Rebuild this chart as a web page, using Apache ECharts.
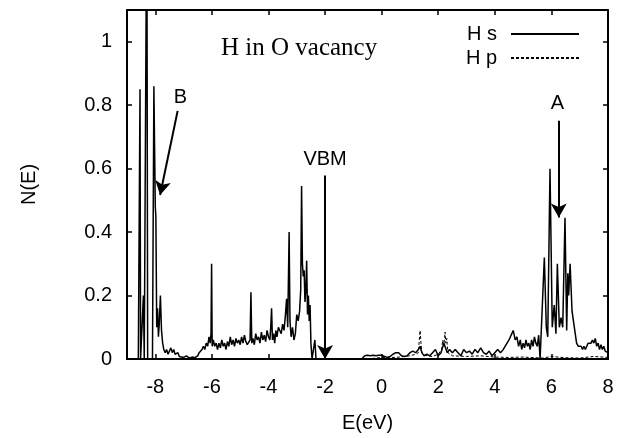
<!DOCTYPE html>
<html>
<head>
<meta charset="utf-8">
<script src="https://cdn.jsdelivr.net/npm/echarts@6/dist/echarts.min.js"></script>
<style>
html,body{margin:0;padding:0;background:#fff;}
#c{width:619px;height:438px;}
</style>
</head>
<body>
<div id="c"></div>
<script>
// H s projected DOS (energy in eV, N(E))
var hsE = [-9.00,-8.60,-8.56,-8.54,-8.52,-8.45,-8.42,-8.39,-8.33,-8.30,-8.27,-8.10,-8.05,-8.00,-7.98,-7.95,-7.92,-7.89,-7.86,-7.82,-7.78,-7.74,-7.70,-7.65,-7.60,-7.55,-7.50,-7.45,-7.40,-7.35,-7.30,-7.25,-7.20,-7.15,-7.10,-7.00,-6.90,-6.80,-6.70,-6.60,-6.50,-6.45,-6.40,-6.35,-6.30,-6.25,-6.20,-6.15,-6.10,-6.06,-6.03,-6.01,-5.99,-5.95,-5.90,-5.85,-5.80,-5.75,-5.70,-5.65,-5.60,-5.55,-5.50,-5.45,-5.40,-5.35,-5.30,-5.25,-5.20,-5.15,-5.10,-5.05,-5.00,-4.95,-4.90,-4.85,-4.80,-4.75,-4.70,-4.65,-4.62,-4.59,-4.55,-4.50,-4.45,-4.40,-4.35,-4.30,-4.25,-4.20,-4.15,-4.10,-4.05,-4.00,-3.95,-3.92,-3.89,-3.86,-3.82,-3.78,-3.74,-3.70,-3.65,-3.60,-3.55,-3.50,-3.45,-3.40,-3.36,-3.32,-3.27,-3.24,-3.20,-3.15,-3.10,-3.05,-3.00,-2.95,-2.90,-2.86,-2.83,-2.80,-2.77,-2.74,-2.71,-2.68,-2.65,-2.62,-2.59,-2.56,-2.53,-2.50,-2.46,-2.40,-2.36,-2.32,-0.70,-0.60,-0.50,-0.40,-0.30,-0.20,-0.10,0.00,0.10,0.20,0.30,0.40,0.50,0.60,0.70,0.80,0.90,1.00,1.10,1.20,1.30,1.36,1.42,1.50,1.60,1.70,1.80,1.90,2.00,2.10,2.20,2.26,2.32,2.40,2.50,2.60,2.70,2.80,2.90,3.00,3.10,3.20,3.30,3.40,3.50,3.60,3.70,3.80,3.90,4.00,4.10,4.20,4.30,4.40,4.50,4.60,4.65,4.72,4.78,4.84,4.90,4.95,5.00,5.05,5.10,5.15,5.20,5.25,5.30,5.35,5.40,5.45,5.50,5.55,5.60,5.66,5.75,5.82,5.87,5.95,6.03,6.10,6.16,6.21,6.28,6.34,6.40,6.48,6.54,6.58,6.61,6.66,6.73,6.80,6.89,6.95,7.00,7.05,7.10,7.15,7.20,7.25,7.30,7.35,7.40,7.45,7.50,7.55,7.60,7.65,7.70,7.75,7.80,7.85,7.90,7.95,8.00];
var hsN = [0,0,0,0.85,0,0,0.20,0,0,1.5,0,0,0.86,0.48,0.45,0.10,0.16,0.07,0.11,0.20,0.09,0.05,0.03,0.02,0.03,0.015,0.02,0.035,0.02,0.03,0.015,0.01,0.02,0.008,0.012,0.005,0.01,0.003,0.006,0.004,0.01,0.02,0.015,0.03,0.04,0.03,0.05,0.04,0.07,0.05,0.08,0.30,0.04,0.06,0.04,0.05,0.03,0.05,0.035,0.06,0.04,0.05,0.03,0.055,0.04,0.07,0.045,0.06,0.04,0.065,0.05,0.06,0.045,0.07,0.05,0.075,0.055,0.045,0.05,0.06,0.21,0.05,0.065,0.045,0.08,0.06,0.07,0.05,0.085,0.06,0.075,0.055,0.09,0.07,0.06,0.10,0.16,0.06,0.08,0.05,0.09,0.07,0.10,0.09,0.08,0.11,0.09,0.14,0.19,0.10,0.40,0.12,0.07,0.10,0.06,0.08,0.14,0.12,0.15,0.22,0.545,0.30,0.26,0.28,0.18,0.22,0.31,0.14,0.20,0.12,0.17,0.05,0,0,0.06,0,0,0.01,0.012,0.01,0.012,0.01,0.012,0.012,0.008,0.005,0.008,0.015,0.02,0.02,0.01,0.008,0.01,0.02,0.025,0.02,0.03,0.04,0.02,0.01,0.015,0.01,0.02,0.03,0.01,0.02,0.05,0.035,0.02,0.03,0.02,0.03,0.02,0.01,0.03,0.02,0.025,0.015,0.03,0.02,0.035,0.02,0.015,0.025,0.01,0.02,0.03,0.02,0.03,0.045,0.06,0.08,0.09,0.06,0.07,0.04,0.06,0.03,0.05,0.035,0.06,0.04,0.05,0.03,0.06,0.04,0.07,0.05,0.04,0.075,0,0,0.32,0.10,0.07,0.60,0.10,0.17,0.08,0.30,0.10,0.13,0.10,0.445,0.09,0.27,0.20,0.30,0.15,0.15,0.05,0.04,0.035,0.04,0.03,0.04,0.03,0.04,0.05,0.045,0.05,0.06,0.05,0.065,0.04,0.05,0.03,0.045,0.03,0.04,0.025,0.03,0.02];
// H p projected DOS
var hpE = [-9.00,-0.50,-0.20,0.00,0.50,1.00,1.20,1.30,1.33,1.36,1.39,1.42,1.60,1.80,2.00,2.12,2.16,2.20,2.24,2.27,2.30,2.34,2.50,3.00,3.50,4.00,4.50,5.00,5.50,5.70,6.00,6.50,7.00,7.50,8.00];
var hpN = [0,0,0.003,0.005,0.005,0.01,0.015,0.02,0.06,0.09,0.05,0.02,0.01,0.008,0.015,0.03,0.06,0.04,0.085,0.05,0.065,0.02,0.01,0.008,0.01,0.006,0.005,0.006,0.004,0.003,0.008,0.004,0.003,0.008,0.005];
// axis ticks
var xTicks = [-8,-6,-4,-2,0,2,4,6,8];
var yTicks = [0,0.2,0.4,0.6,0.8,1];
// annotations: [label, labelX, labelY, arrowStartX, arrowStartY, arrowEndX, arrowEndY]
var notes = [
  ['VBM', -2.0, 0.63, -2.0, 0.578, -2.0, 0.0],
  ['B', -7.11, 0.825, -7.21, 0.782, -7.83, 0.517],
  ['A', 6.215, 0.805, 6.26, 0.751, 6.26, 0.446]
];

function zip(a, b){ return a.map(function(v,i){ return [v, b[i]]; }); }

var sans = 'Liberation Sans, Arial, sans-serif';
var chart = echarts.init(document.getElementById('c'), null, {renderer:'canvas'});
var axisCommon = {
  type:'value', min:-9, max:8,
  axisLine:{show:true, onZero:false, lineStyle:{color:'#000', width:2}},
  axisTick:{show:true, inside:true, length:5, customValues:xTicks, lineStyle:{color:'#000', width:1.5}},
  splitLine:{show:false}
};
var yCommon = {
  type:'value', min:0, max:1.1,
  axisLine:{show:true, onZero:false, lineStyle:{color:'#000', width:2}},
  axisTick:{show:true, inside:true, length:5, customValues:yTicks, lineStyle:{color:'#000', width:1.5}},
  splitLine:{show:false}
};
var option = {
  animation:false,
  backgroundColor:'#fff',
  title:{
    text:'H in O vacancy', left:216, top:31,
    textStyle:{fontFamily:'Liberation Serif, Times New Roman, serif', fontWeight:'normal', fontSize:25, color:'#000'}
  },
  legend:{
    right:34, top:19, orient:'vertical', align:'right',
    itemWidth:68, itemHeight:20, itemGap:4, selectedMode:false,
    itemStyle:{opacity:0},
    textStyle:{fontFamily:sans, fontSize:20, color:'#000', padding:[0,9,0,0]},
    data:['H s','H p']
  },
  grid:{left:127, right:11, top:10, bottom:76, containLabel:false},
  xAxis:[
    Object.assign({}, axisCommon, {
      position:'bottom',
      name:'E(eV)', nameLocation:'middle', nameGap:54,
      nameTextStyle:{fontFamily:sans, fontSize:20, color:'#000'},
      axisLabel:{show:true, customValues:xTicks, margin:18, fontFamily:sans, fontSize:20, color:'#000'}
    }),
    Object.assign({}, axisCommon, {position:'top', axisLabel:{show:false}})
  ],
  yAxis:[
    Object.assign({}, yCommon, {
      position:'left',
      name:'N(E)', nameLocation:'middle', nameGap:88,
      nameTextStyle:{fontFamily:sans, fontSize:20, color:'#000'},
      axisLabel:{show:true, customValues:yTicks, margin:15, fontFamily:sans, fontSize:20, color:'#000'}
    }),
    Object.assign({}, yCommon, {position:'right', axisLabel:{show:false}})
  ],
  series:[
    {
      name:'H s', type:'line', xAxisIndex:0, yAxisIndex:0,
      data:zip(hsE, hsN), showSymbol:false, symbol:'none', clip:true,
      lineStyle:{color:'#000', width:1.5}, itemStyle:{color:'#000'},
      emphasis:{disabled:true},
      markLine:{
        silent:true, symbol:['none','arrow'], symbolSize:[12,14],
        lineStyle:{color:'#000', width:2, type:'solid'},
        label:{show:false},
        data:notes.map(function(n){ return [{coord:[n[3], n[4]]},{coord:[n[5], n[6]]}]; })
      },
      markPoint:{
        silent:true,
        data:notes.map(function(n){
          return {coord:[n[1], n[2]], symbol:'rect', symbolSize:1,
            itemStyle:{color:'rgba(0,0,0,0)'},
            label:{show:true, position:'inside', formatter:n[0], fontFamily:sans, fontSize:20, color:'#000'}};
        })
      }
    },
    {
      name:'H p', type:'line', xAxisIndex:0, yAxisIndex:0,
      data:zip(hpE, hpN), showSymbol:false, symbol:'none', clip:true,
      lineStyle:{color:'#000', width:1, type:[3,2]}, itemStyle:{color:'#000'},
      emphasis:{disabled:true}
    }
  ]
};
chart.setOption(option);
</script>
</body>
</html>
